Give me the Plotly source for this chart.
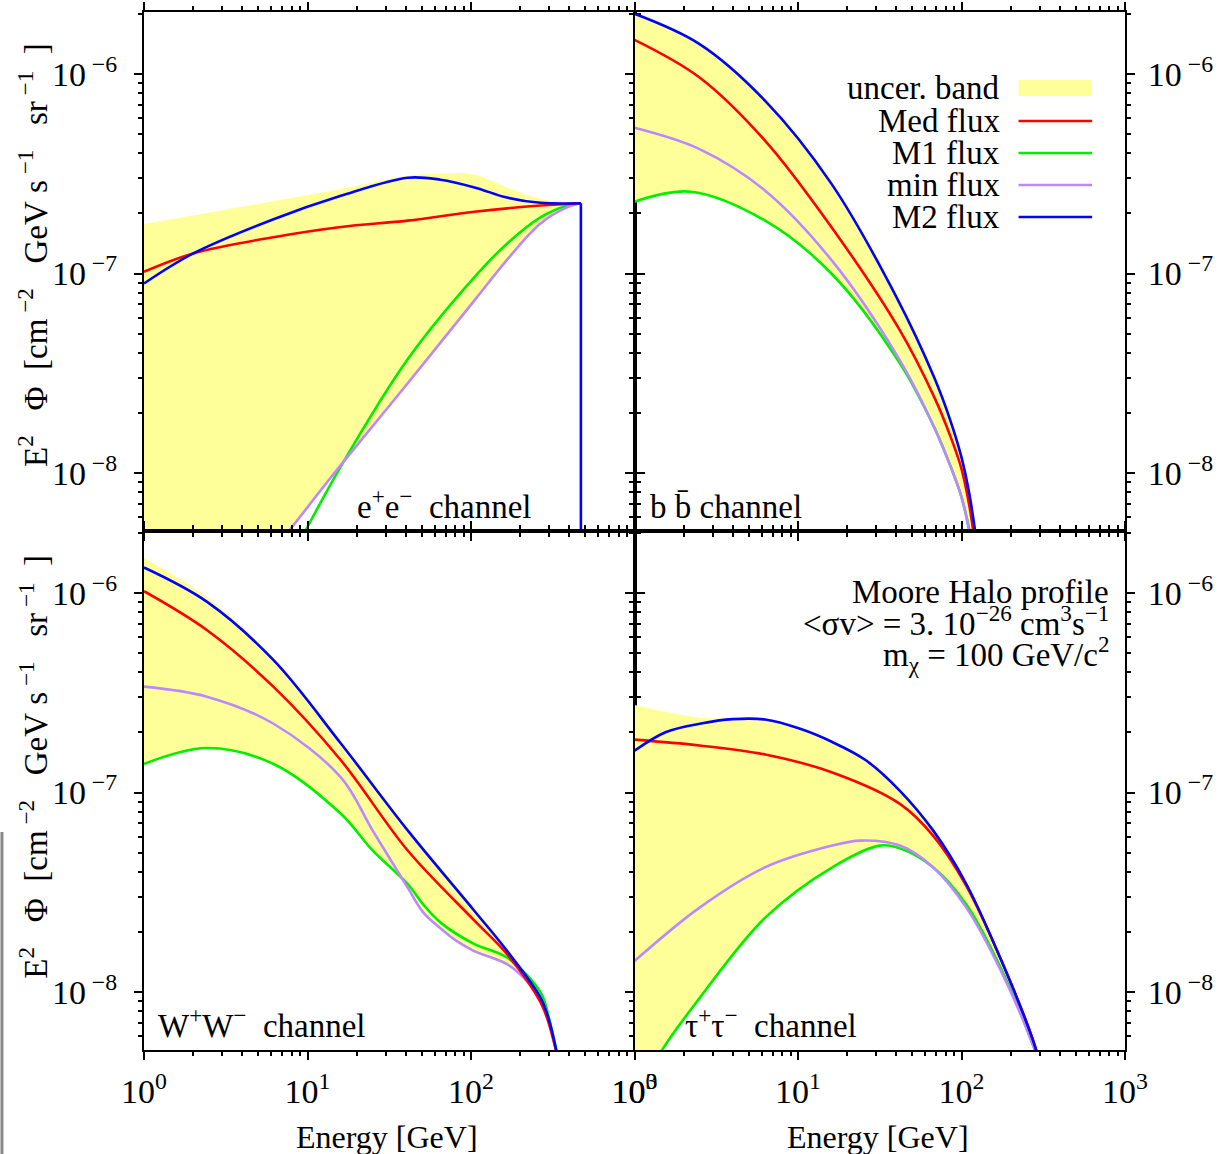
import plotly.graph_objects as go

FONT = "Liberation Serif"
YELLOW = "#ffff99"
RED = "#ff0000"
GREEN = "#00ee00"
PURPLE = "#bb88ff"
BLUE = "#0000ff"

# ---------------- data ----------------
# ---- e+ e- channel ----
ee_m2_E = [1, 2, 6.2, 16, 41, 65, 105, 166, 266, 470]
ee_m2 = [8.91e-8, 1.26e-7, 1.87e-7, 2.45e-7, 3.02e-7, 2.95e-7, 2.70e-7, 2.40e-7, 2.26e-7, 2.25e-7]
ee_med_E = [1, 2, 6.2, 16, 41, 105, 266, 470]
ee_med = [1.02e-7, 1.26e-7, 1.52e-7, 1.71e-7, 1.84e-7, 2.04e-7, 2.19e-7, 2.25e-7]
ee_m1_E = [7.1, 16, 41, 105, 166, 266, 389, 470]
ee_m1 = [3.16e-9, 1.08e-8, 3.72e-8, 9.59e-8, 1.41e-7, 1.91e-7, 2.19e-7, 2.25e-7]
ee_min_E = [4, 7.7, 13.5, 41, 105, 166, 266, 389, 470]
ee_min = [2.63e-9, 5.13e-9, 9.23e-9, 2.82e-8, 7.33e-8, 1.17e-7, 1.78e-7, 2.15e-7, 2.25e-7]
ee_band_hi_E = [1, 4, 16, 41, 71, 105, 166, 266, 470]
ee_band_hi = [1.77e-7, 2.16e-7, 2.65e-7, 3.09e-7, 3.18e-7, 3.13e-7, 2.70e-7, 2.36e-7, 2.25e-7]
ee_band_lo_E = [1, 4, 7.7, 13.5, 41, 105, 166, 266, 389, 470]
ee_band_lo = [6.31e-10, 2.51e-9, 5.01e-9, 9.02e-9, 2.75e-8, 7.16e-8, 1.15e-7, 1.74e-7, 2.13e-7, 2.25e-7]
ee_cut_E = [470, 470]
ee_cut_flux = [2.25e-7, 1.0e-10]

# ---- b bbar channel ----
bb_m2_E = [1, 2.5, 6.3, 16, 40, 68, 85, 100, 112, 123]
bb_m2 = [2.00e-6, 1.41e-6, 7.33e-7, 2.82e-7, 7.62e-8, 3.02e-8, 1.86e-8, 1.20e-8, 7.76e-9, 4.68e-9]
bb_med_E = [1, 2.5, 6.3, 16, 42, 68, 85, 100, 112, 123]
bb_med = [1.48e-6, 9.59e-7, 4.62e-7, 1.71e-7, 5.19e-8, 2.41e-8, 1.55e-8, 1.05e-8, 6.76e-9, 3.98e-9]
bb_min_E = [1, 2.5, 6.3, 16, 42, 68, 85, 100, 112, 123]
bb_min = [5.37e-7, 4.20e-7, 2.60e-7, 1.17e-7, 3.67e-8, 1.70e-8, 1.10e-8, 7.59e-9, 5.01e-9, 3.16e-9]
bb_m1_E = [1, 2.2, 6.3, 16, 42, 68, 85, 100, 112, 123]
bb_m1 = [2.29e-7, 2.57e-7, 1.84e-7, 1.00e-7, 3.55e-8, 1.70e-8, 1.10e-8, 7.59e-9, 5.13e-9, 3.16e-9]

# ---- W+ W- channel ----
ww_m2_E = [1, 2.42, 6.2, 16, 41, 105, 166, 266, 300, 350]
ww_m2 = [1.34e-6, 9.04e-7, 4.60e-7, 1.76e-7, 6.46e-8, 2.55e-8, 1.61e-8, 9.38e-9, 7.24e-9, 4.17e-9]
ww_med_E = [1, 2.42, 6.2, 16, 41, 105, 166, 266, 300, 350]
ww_med = [1.02e-6, 6.52e-7, 3.38e-7, 1.45e-7, 5.12e-8, 2.28e-8, 1.55e-8, 8.91e-9, 6.92e-9, 4.17e-9]
ww_min_E = [1, 2.42, 6.2, 16, 25, 41, 51, 65, 82, 104, 166, 210, 266, 300, 350]
ww_min = [3.39e-7, 3.02e-7, 2.21e-7, 1.19e-7, 6.46e-8, 3.34e-8, 2.51e-8, 2.09e-8, 1.80e-8, 1.61e-8, 1.38e-8, 1.18e-8, 9.33e-9, 7.08e-9, 4.17e-9]
ww_m1_E = [1, 2.42, 6.2, 16, 25, 41, 51, 66, 105, 166, 266, 300, 350]
ww_m1 = [1.39e-7, 1.67e-7, 1.39e-7, 7.82e-8, 5.13e-8, 3.48e-8, 2.75e-8, 2.21e-8, 1.74e-8, 1.49e-8, 1.00e-8, 7.41e-9, 4.17e-9]
ww_band_hi_E = [1, 2.42, 6.2, 16, 41, 105, 166, 266, 300, 350]
ww_band_hi = [1.49e-6, 9.55e-7, 4.68e-7, 1.79e-7, 6.61e-8, 2.66e-8, 1.68e-8, 9.66e-9, 7.41e-9, 4.17e-9]
ww_band_lo_E = [1, 2.42, 6.2, 16, 25, 41, 51, 65, 82, 104, 166, 210, 266, 300, 350]
ww_band_lo = [1.38e-7, 1.66e-7, 1.38e-7, 7.76e-8, 5.13e-8, 3.31e-8, 2.49e-8, 2.07e-8, 1.78e-8, 1.58e-8, 1.36e-8, 1.17e-8, 9.23e-9, 7.08e-9, 4.17e-9]

# ---- tau+ tau- channel ----
tt_m2_E = [1, 1.56, 2.5, 4, 6.3, 10.2, 16.2, 26, 42, 67, 107, 174, 275, 316]
tt_m2 = [1.62e-7, 2.01e-7, 2.21e-7, 2.33e-7, 2.32e-7, 2.09e-7, 1.79e-7, 1.45e-7, 1.02e-7, 6.46e-8, 3.48e-8, 1.46e-8, 5.68e-9, 3.80e-9]
tt_med_E = [1, 2.5, 6.3, 16.2, 42, 67, 107, 174, 275, 316]
tt_med = [1.84e-7, 1.72e-7, 1.55e-7, 1.26e-7, 8.77e-8, 6.08e-8, 3.41e-8, 1.46e-8, 5.68e-9, 3.80e-9]
tt_min_E = [1, 2.5, 6.3, 16.2, 24, 42, 67, 107, 174, 275, 316]
tt_min = [1.43e-8, 2.65e-8, 4.22e-8, 5.42e-8, 5.74e-8, 5.42e-8, 4.22e-8, 2.65e-8, 1.28e-8, 5.37e-9, 3.80e-9]
tt_m1_E = [1, 1.45, 2.5, 6.3, 16.2, 31.6, 42, 67, 107, 174, 275, 316]
tt_m1 = [2.75e-9, 5.01e-9, 9.33e-9, 2.36e-8, 4.22e-8, 5.42e-8, 5.25e-8, 4.22e-8, 2.75e-8, 1.32e-8, 5.37e-9, 3.80e-9]
tt_band_hi_E = [1, 2.5, 4, 6.3, 10.2, 16.2, 26, 42, 67, 107, 174, 275, 316]
tt_band_hi = [2.74e-7, 2.37e-7, 2.36e-7, 2.33e-7, 2.11e-7, 1.81e-7, 1.47e-7, 1.04e-7, 6.60e-8, 3.52e-8, 1.48e-8, 5.75e-9, 3.85e-9]

# ---- tick labels and texts ----
NB = "\u00a0"
x_tickvals = [1, 10, 100, 1000]
x_ticktext = ["10<sup>0</sup>", "10<sup>1</sup>", "10<sup>2</sup>", "10<sup>3</sup>"]
y_tickvals = [1e-8, 1e-7, 1e-6]
y_ticktext = ["10<sup>" + NB + "\u22128</sup>", "10<sup>" + NB + "\u22127</sup>", "10<sup>" + NB + "\u22126</sup>"]
legend_labels = ["uncer. band", "Med flux", "M1 flux", "min flux", "M2 flux"]
channel_labels = ["e<sup>+</sup>e<sup>\u2212</sup>" + NB + " channel", "b b\u0304 channel",
                  "W<sup>+</sup>W<sup>\u2212</sup>" + NB + " channel",
                  "\u03c4<sup>+</sup>\u03c4<sup>\u2212</sup>" + NB + " channel"]
y_title = ("E<sup>2</sup>" + NB * 3 + "\u03a6" + NB * 2 + "[cm<sup>" + NB + "\u22122</sup>" + NB * 3 + "GeV" + NB
           + "s<sup>" + NB + "\u22121</sup>" + NB * 3 + "sr<sup>" + NB + "\u22121</sup>" + NB * 2 + "]")
x_title = "Energy [GeV]"
info = ["Moore Halo profile",
        "&lt;\u03c3v&gt; = 3. 10<sup>\u221226</sup> cm<sup>3</sup>s<sup>\u22121</sup>",
        "m<sub>\u03c7</sub> = 100 GeV/c<sup>2</sup>"]

# ---------------- figure ----------------
fig = go.Figure()


def line_trace(E, y, color, name, xa, ya, width=2.6, shape="spline"):
    return go.Scatter(x=E, y=y, mode="lines", line=dict(width=width, color=color, shape=shape),
                      showlegend=False, name=name, xaxis=xa, yaxis=ya)


def add_panel(k, band_lo, band_hi, curves):
    xa = "x" if k == 1 else f"x{k}"
    ya = "y" if k == 1 else f"y{k}"
    (Elo, lo), (Ehi, hi) = band_lo, band_hi
    fig.add_trace(go.Scatter(x=Elo, y=lo, mode="lines", line=dict(width=0, shape="spline", color=YELLOW),
                             showlegend=False, hoverinfo="skip", xaxis=xa, yaxis=ya))
    fig.add_trace(go.Scatter(x=Ehi, y=hi, mode="lines", line=dict(width=0, shape="spline", color=YELLOW),
                             fill="tonexty", fillcolor=YELLOW, showlegend=False, name="uncer. band",
                             xaxis=xa, yaxis=ya))
    for (E, y, c, n) in curves:
        fig.add_trace(line_trace(E, y, c, n, xa, ya))


add_panel(1, (ee_band_lo_E, ee_band_lo), (ee_band_hi_E, ee_band_hi),
          [(ee_m1_E, ee_m1, GREEN, "M1 flux"), (ee_min_E, ee_min, PURPLE, "min flux"),
           (ee_med_E, ee_med, RED, "Med flux"), (ee_m2_E, ee_m2, BLUE, "M2 flux")])
fig.add_trace(line_trace(ee_cut_E, ee_cut_flux, BLUE, "M2 flux", "x", "y", shape="linear"))
add_panel(2, (bb_m1_E, bb_m1), (bb_m2_E, bb_m2),
          [(bb_m1_E, bb_m1, GREEN, "M1 flux"), (bb_min_E, bb_min, PURPLE, "min flux"),
           (bb_med_E, bb_med, RED, "Med flux"), (bb_m2_E, bb_m2, BLUE, "M2 flux")])
add_panel(3, (ww_band_lo_E, ww_band_lo), (ww_band_hi_E, ww_band_hi),
          [(ww_m1_E, ww_m1, GREEN, "M1 flux"), (ww_min_E, ww_min, PURPLE, "min flux"),
           (ww_med_E, ww_med, RED, "Med flux"), (ww_m2_E, ww_m2, BLUE, "M2 flux")])
add_panel(4, (tt_m1_E, tt_m1), (tt_band_hi_E, tt_band_hi),
          [(tt_m1_E, tt_m1, GREEN, "M1 flux"), (tt_min_E, tt_min, PURPLE, "min flux"),
           (tt_med_E, tt_med, RED, "Med flux"), (tt_m2_E, tt_m2, BLUE, "M2 flux")])

tickfont = dict(family=FONT, size=34, color="black")
x_minor = [k * 10 ** p for p in range(0, 3) for k in range(2, 10)]
y_minor = [k * 10.0 ** p for p in range(-9, -5) for k in range(2, 10)]


def xaxis(domain, anchor, show_labels):
    return dict(type="log", range=[0, 3], domain=domain, anchor=anchor, automargin=False,
                showline=True, linecolor="black", linewidth=2,
                mirror="allticks", ticks="outside", ticklen=8, tickwidth=1.5, tickcolor="black",
                tickmode="array", tickvals=x_tickvals, ticktext=x_ticktext, showticklabels=show_labels,
                tickfont=tickfont, ticklabelstandoff=2, showgrid=False, zeroline=False,
                minor=dict(ticks="outside", ticklen=4, tickwidth=1.5, tickcolor="black",
                           tickmode="array", tickvals=x_minor, showgrid=False))


def yaxis(domain, side, anchor, standoff):
    return dict(type="log", range=[-8.29, -5.69], domain=domain, side=side, anchor=anchor,
                automargin=False, showline=True,
                linecolor="black", linewidth=2, mirror="allticks", ticks="outside", ticklen=8,
                tickwidth=1.5, tickcolor="black", tickmode="array", tickvals=y_tickvals,
                ticktext=y_ticktext, tickfont=tickfont, ticklabelstandoff=standoff, showgrid=False,
                zeroline=False,
                minor=dict(ticks="outside", ticklen=4, tickwidth=1.5, tickcolor="black",
                           tickmode="array", tickvals=y_minor, showgrid=False))


fig.update_layout(
    width=1221, height=1154,
    margin=dict(l=144, r=96, t=12, b=104, pad=0, autoexpand=False),
    paper_bgcolor="white", plot_bgcolor="white",
    font=dict(family=FONT, size=33, color="black"),
    showlegend=False,
    xaxis=xaxis([0, 0.5], "y", False),
    yaxis=yaxis([0.5, 1], "left", "x", 10),
    xaxis2=xaxis([0.5, 1], "y2", False),
    yaxis2=yaxis([0.5, 1], "right", "x2", 6),
    xaxis3=xaxis([0, 0.5], "y3", True),
    yaxis3=yaxis([0, 0.5], "left", "x3", 10),
    xaxis4=xaxis([0.5, 1], "y4", True),
    yaxis4=yaxis([0, 0.5], "right", "x4", 6),
)

txt = dict(family=FONT, size=33, color="black")
ann = []
# axis titles
for yc in (0.766, 0.273):
    ann.append(dict(text=y_title, xref="paper", yref="paper", x=-0.113, y=yc, textangle=-90,
                    showarrow=False, xanchor="center", yanchor="middle", font=txt))
for xc in (0.2477, 0.748):
    ann.append(dict(text=x_title, xref="paper", yref="paper", x=xc, y=-0.0838, showarrow=False,
                    xanchor="center", yanchor="middle", font=dict(family=FONT, size=32, color="black")))
# channel labels
for lab, (xr, yr, xx, yy) in zip(channel_labels, [("x domain", "y domain", 0.43, 0.052),
                                                   ("x2 domain", "y2 domain", 0.0285, 0.047),
                                                   ("x3 domain", "y3 domain", 0.024, 0.052),
                                                   ("x4 domain", "y4 domain", 0.098, 0.052)]):
    ann.append(dict(text=lab, xref=xr, yref=yr, x=xx, y=yy, showarrow=False, xanchor="left",
                    yanchor="middle", font=txt))
# info text
for t, yy in zip(info, [0.882, 0.826, 0.762]):
    ann.append(dict(text=t, xref="x4 domain", yref="y4 domain", x=0.972, y=yy, showarrow=False,
                    xanchor="right", yanchor="middle", font=txt))
# legend drawn by hand (text on the left of the sample, as in the reference)
leg_y = [0.8536, 0.79, 0.7283, 0.6667, 0.605]
for t, yy in zip(legend_labels, leg_y):
    ann.append(dict(text=t, xref="x2 domain", yref="y2 domain", x=0.749, y=yy, showarrow=False,
                    xanchor="right", yanchor="middle", font=txt))
fig.update_layout(annotations=ann)

shapes = [dict(type="rect", xref="x2 domain", yref="y2 domain", x0=0.783, x1=0.932, y0=0.838, y1=0.869,
               fillcolor=YELLOW, line=dict(width=0))]
for c, yy in zip([RED, GREEN, PURPLE, BLUE], leg_y[1:]):
    shapes.append(dict(type="line", xref="x2 domain", yref="y2 domain", x0=0.783, x1=0.933, y0=yy, y1=yy,
                       line=dict(color=c, width=2.6)))
shapes.append(dict(type="line", xref="paper", yref="paper", x0=-0.1448, x1=-0.1448, y0=-0.1002, y1=0.21,
                   line=dict(color="#888888", width=3)))
fig.update_layout(shapes=shapes)

fig.write_html("out.html", config={"displayModeBar": False},
               post_script="document.body.style.margin='0px';document.body.style.padding='0px';"
                           "document.body.style.overflow='hidden';")
